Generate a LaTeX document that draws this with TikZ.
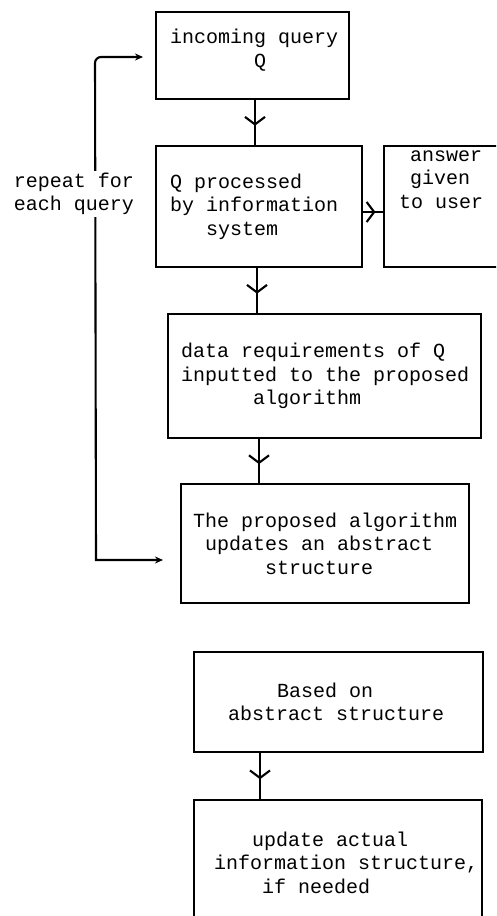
\documentclass[tikz,border=0pt]{standalone}
\usepackage{fontspec}
\setmonofont{Liberation Mono}
\usetikzlibrary{arrows.meta,decorations.markings}
\newcommand{\tyfont}{\ttfamily\fontsize{20pt}{23.5pt}\selectfont}
\newcommand{\tline}[2]{\hspace*{#1pt}\mbox{\spaceskip=0pt\xspaceskip=0pt #2}}
\begin{document}
\begin{tikzpicture}[x=1pt,y=-1pt,
  box/.style={draw, line width=2.1pt, inner sep=0pt, font=\tyfont, align=left, anchor=north west},
  conn/.style={line width=2.1pt, postaction={decorate},
    decoration={markings, mark=at position #1 with {\arrow{Straight Barb[length=7.5pt,width=20pt,line width=2.1pt]}}}},
  conn/.default=0.57,
  loopline/.style={line width=2.1pt, arrows={Stealth[length=8pt,width=7pt]-Stealth[length=8pt,width=7pt]}},
  lbl/.style={font=\tyfont, fill=white, align=center, inner sep=2pt}]
\useasboundingbox (0,0) rectangle (496,916);
\clip (0,0) rectangle (496,916);

\node[box, minimum width=193pt, minimum height=87pt, text width=193pt] (b1) at (155,11)
  {\tline{14}{incoming query}\\\tline{98}{Q}\\[-16pt]\strut};
\node[box, minimum width=206pt, minimum height=121pt, text width=206pt] (b2) at (155,145)
  {\tline{14}{Q processed}\\\tline{14}{by information}\\\tline{50}{system}};
\node[box, minimum width=125pt, minimum height=121pt, text width=125pt] (b3) at (383,145)
  {\tline{26}{answer}\\\tline{26}{given}\\\tline{15}{to user}\\\strut\\\strut};
\node[box, minimum width=313pt, minimum height=124pt, text width=313pt] (b4) at (167,313)
  {\tline{13}{data requirements of Q}\\\tline{13}{inputted to the proposed}\\\tline{85}{algorithm}};
\node[box, minimum width=288pt, minimum height=119pt, text width=288pt] (b5) at (180,483)
  {\tline{12}{The proposed algorithm}\\\tline{24}{updates an abstract}\\\tline{84}{structure}};
\node[box, minimum width=289pt, minimum height=100pt, text width=289pt] (b6) at (193,651)
  {\tline{83}{Based on}\\\tline{34}{abstract structure}};
\node[box, minimum width=288pt, minimum height=125pt, text width=288pt] (b7) at (193,799)
  {\tline{58}{update actual}\\\tline{20}{information structure,}\\\tline{68}{if needed}};

\coordinate (x12) at (255,0);
\coordinate (x24) at (257,0);
\coordinate (x45) at (259,0);
\coordinate (x67) at (260,0);
\coordinate (y23) at (0,212);

\draw[conn] (b1.south -| x12) -- (b2.north -| x12);
\draw[conn] (b2.south -| x24) -- (b4.north -| x24);
\draw[conn] (b4.south -| x45) -- (b5.north -| x45);
\draw[conn] (b6.south -| x67) -- (b7.north -| x67);
\draw[conn=0.62] (b2.east |- y23) -- (b3.west |- y23);

\coordinate (a1) at (143,57);
\coordinate (a5) at (163,560);
\coordinate (cb) at (96,560);
\coordinate (ct) at (95,57);
\draw[loopline] (a5) -- (cb) [rounded corners=6pt] -- (ct) -- (a1);
\node[lbl] (rep) at (74,194) {repeat for\\each query};
\end{tikzpicture}
\end{document}
